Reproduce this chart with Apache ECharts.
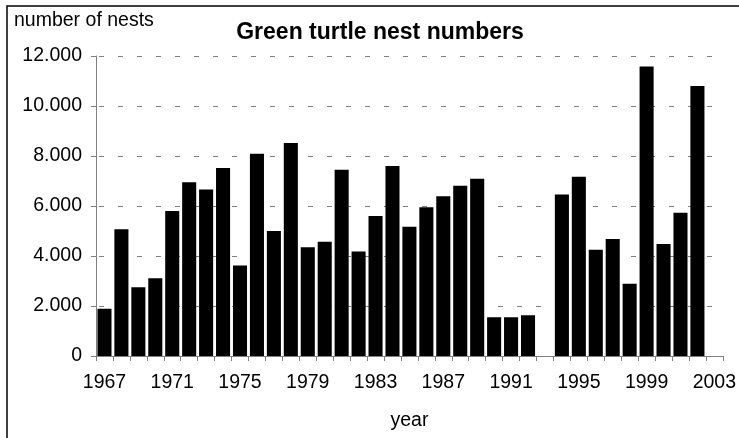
<!DOCTYPE html>
<html>
<head>
<meta charset="utf-8">
<script src="https://cdn.jsdelivr.net/npm/echarts@6/dist/echarts.min.js"></script>
<style>
  html, body { margin: 0; padding: 0; background: #fff; }
  #chart { width: 739px; height: 438px; }
</style>
</head>
<body>
<div id="chart"></div>
<script>
// Nesting seasons shown on the category axis
const years = [
  '1967','1968','1969','1970','1971','1972','1973','1974','1975','1976',
  '1977','1978','1979','1980','1981','1982','1983','1984','1985','1986',
  '1987','1988','1989','1990','1991','1992','1993','1994','1995','1996',
  '1997','1998','1999','2000','2001','2002','2003'
];

// Green turtle nests counted per season (null = no count)
const nests = [
  1890, 5070, 2750, 3110, 5800, 6950, 6660, 7520, 3620, 8090,
  5000, 8520, 4350, 4570, 7450, 4180, 5600, 7600, 5170, 5950,
  6390, 6810, 7090, 1550, 1550, 1630, null, 6460, 7170, 4250,
  4680, 2890, 11580, 4480, 5730, 10800, null
];

const titleText = 'Green turtle nest numbers';
const yAxisTitle = 'number of nests';
const xAxisTitle = 'year';

const FONT = '"Liberation Sans", Arial, sans-serif';

// 12000 -> "12.000"
function thousands(v) {
  return String(v).replace(/\B(?=(\d{3})+(?!\d))/g, '.');
}

const chart = echarts.init(document.getElementById('chart'), null, { renderer: 'canvas' });

chart.setOption({
  animation: false,
  backgroundColor: '#ffffff',
  grid: { left: 96, right: 12, top: 56, bottom: 82, containLabel: false },
  graphic: [
    {
      type: 'rect',
      shape: { x: 7, y: 6, width: 760, height: 460 },
      style: { fill: 'none', stroke: '#000', lineWidth: 1.5 },
      silent: true
    },
    {
      type: 'text',
      x: 14, y: 21,
      style: {
        text: yAxisTitle, font: '19.5px ' + FONT, fill: '#000',
        textVerticalAlign: 'middle'
      }
    },
    {
      type: 'text',
      x: 380, y: 33,
      style: {
        text: titleText, font: 'bold 23px ' + FONT, fill: '#000',
        textAlign: 'center', textVerticalAlign: 'middle'
      }
    }
  ],
  xAxis: {
    type: 'category',
    data: years,
    boundaryGap: true,
    name: xAxisTitle,
    nameLocation: 'middle',
    nameGap: 55,
    nameTextStyle: { fontFamily: FONT, fontSize: 19.5, color: '#000' },
    axisLine: { lineStyle: { color: '#808080', width: 1 } },
    axisTick: { show: true, interval: 0, length: 5, lineStyle: { color: '#808080' } },
    axisLabel: {
      interval: 3, margin: 17,
      fontFamily: FONT, fontSize: 19.5, color: '#000'
    },
    splitLine: { show: false }
  },
  yAxis: {
    type: 'value',
    min: 0, max: 12000, interval: 2000,
    axisLine: { show: true, lineStyle: { color: '#808080', width: 1 } },
    axisTick: { show: true, length: 5, lineStyle: { color: '#808080' } },
    axisLabel: {
      margin: 14, formatter: thousands,
      fontFamily: FONT, fontSize: 19.5, color: '#000'
    },
    splitLine: {
      show: true,
      lineStyle: { color: '#808080', width: 1, type: [5, 14], dashOffset: -3 }
    }
  },
  series: [{
    type: 'bar',
    data: nests,
    barCategoryGap: '17%',
    itemStyle: { color: '#000' }
  }]
});
</script>
</body>
</html>
